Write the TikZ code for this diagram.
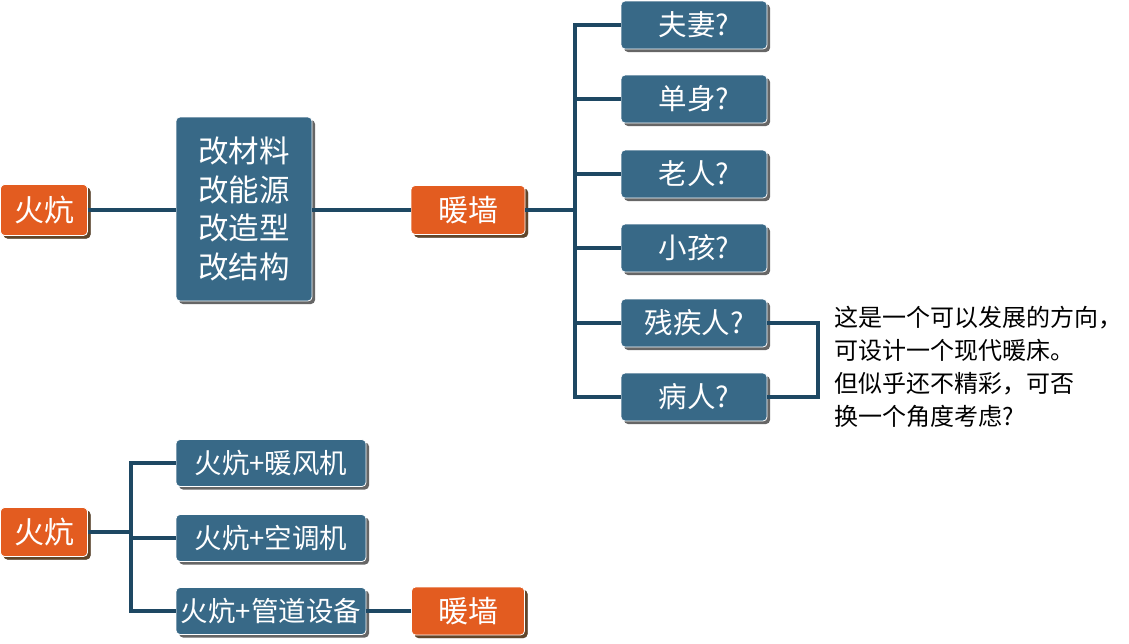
\documentclass[tikz,border=0pt]{standalone}
\usepackage{fontspec}
\usetikzlibrary{shadows}
\setmainfont{Noto Sans CJK SC}
\begin{document}
\begin{tikzpicture}[x=1pt,y=-1pt,
  conn/.style={draw=linec,line width=3.5pt},
  bluebox/.style={fill=boxblue,draw=white,line width=0.8pt,rounded corners=4pt,text=white,align=center,inner sep=0pt,
     drop shadow={shadow xshift=3pt,shadow yshift=-3pt,fill=black!75,opacity=0.8}},
  orangebox/.style={bluebox,fill=boxorange,drop shadow={shadow xshift=3pt,shadow yshift=-3pt,fill=brown!50!black,opacity=0.85}},
]
\useasboundingbox (0,0) rectangle (1129,643);
\definecolor{boxblue}{HTML}{386987}
\definecolor{boxorange}{HTML}{E35C20}
\definecolor{linec}{HTML}{1E4863}
% top part
\node[orangebox,minimum width=87pt,minimum height=51pt,font=\fontsize{30}{32}\selectfont] (hk1) at (44,210) {火炕};
\node[bluebox,minimum width=136pt,minimum height=184pt,font=\fontsize{30.5}{38.5}\selectfont] (gai) at (244,209) {改材料\\改能源\\改造型\\改结构};
\node[orangebox,minimum width=114pt,minimum height=49pt,font=\fontsize{30}{32}\selectfont] (nq1) at (468,210) {暖墙};
\foreach \n/\t/\y in {a/夫妻?/25, b/单身?/99, c/老人?/174, d/小孩?/248, e/残疾人?/323, f/病人?/397}{
  \node[bluebox,minimum width=146pt,minimum height=48pt,font=\fontsize{28.5}{30}\selectfont] (\n) at (694,\y) {\t};
}
\coordinate (trunk) at (575,210);
\draw[conn] (hk1.east) -- (gai.west |- hk1.east);
\draw[conn] (gai.east |- nq1.west) -- (nq1.west);
\draw[conn] (nq1.east) -- (trunk);
\draw[conn] (a.west) -| (trunk) |- (f.west);
\foreach \n in {b,c,d,e}{ \draw[conn] (trunk |- \n.west) -- (\n.west); }
\coordinate (br) at (818,323);
\draw[conn,line cap=butt] (e.east) -- (br) -- (br |- f.east) -- (f.east);
\node[anchor=north west,align=left,font=\fontsize{24}{33}\selectfont,inner sep=0pt] (note) at (834,306)
 {这是一个可以发展的方向，\\可设计一个现代暖床。\\但似乎还不精彩，可否\\换一个角度考虑?};
% bottom part
\node[orangebox,minimum width=87pt,minimum height=49pt,font=\fontsize{30}{32}\selectfont] (hk2) at (44,532) {火炕};
\node[bluebox,minimum width=190pt,minimum height=47pt,font=\fontsize{27.5}{29}\selectfont] (g) at (271,463) {火炕+暖风机};
\node[bluebox,minimum width=190pt,minimum height=47pt,font=\fontsize{27.5}{29}\selectfont] (h) at (271,538) {火炕+空调机};
\node[bluebox,minimum width=190pt,minimum height=47pt,font=\fontsize{27.5}{29}\selectfont] (i) at (271,611) {火炕+管道设备};
\node[orangebox,minimum width=113pt,minimum height=48pt,font=\fontsize{30}{32}\selectfont] (nq2) at (468,611) {暖墙};
\coordinate (t2) at (131,532);
\draw[conn] (hk2.east) -- (t2);
\draw[conn] (g.west) -| (t2) |- (i.west);
\draw[conn] (t2 |- h.west) -- (h.west);
\draw[conn] (i.east) -- (nq2.west |- i.east);
\end{tikzpicture}
\end{document}
